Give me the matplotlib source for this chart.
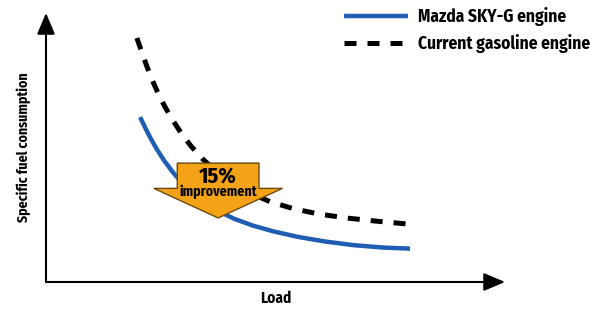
import matplotlib
matplotlib.use("Agg")
import matplotlib.pyplot as plt
import matplotlib.patches as mpatches

# Values (arbitrary units, both axes run 0-100)
load_current = [19.8, 20.8, 21.8, 22.9, 24.2, 25.7, 27.4, 29.4, 31.6, 34.2, 37.2, 40.6,
                44.5, 48.9, 53.8, 59.3, 65.4, 72.1, 80.4]
sfc_current = [90.7, 85.8, 81.0, 76.0, 71.0, 65.8, 60.7, 55.5, 50.5, 45.6, 41.0, 36.8,
                33.0, 29.8, 27.3, 25.3, 23.8, 22.6, 21.3]

load_skyg = [20.5, 21.6, 22.8, 24.2, 25.8, 27.6, 29.6, 31.9, 34.5, 37.5, 41.0, 45.0,
             49.6, 54.8, 60.6, 67.0, 73.5, 79.3]
sfc_skyg = [61.3, 57.4, 53.4, 49.2, 45.0, 40.9, 36.9, 33.1, 29.6, 26.4, 23.5, 21.0,
            18.8, 16.8, 15.1, 13.7, 12.8, 12.4]

labels = ["Mazda SKY-G engine", "Current gasoline engine"]
improvement = ["15%", "improvement"]

BLUE = "#1f5db4"
ORANGE = "#f5a316"
FONT = ["Fira Sans Condensed", "DejaVu Sans"]

fig = plt.figure(figsize=(6.03, 3.09), dpi=100)
W, H = 603, 309
ax = fig.add_axes([46 / W, (H - 282) / H, (505 - 46) / W, (282 - 13) / H])
ax.set_xlim(0, 100)
ax.set_ylim(0, 100)
for s in ax.spines.values():
    s.set_visible(False)
ax.set_xticks([])
ax.set_yticks([])

# axis arrows
arrow_kw = dict(arrowstyle="-|>,head_length=1.3,head_width=0.55", color="black", lw=1.5,
                shrinkA=0, shrinkB=0)
ax.annotate("", xy=(1, 0), xytext=(0, 0), xycoords="axes fraction", arrowprops=arrow_kw)
ax.annotate("", xy=(0, 1), xytext=(0, 0), xycoords="axes fraction", arrowprops=arrow_kw)

blue_line, = ax.plot(load_skyg, sfc_skyg, color=BLUE, lw=3.2, solid_capstyle="butt",
                     label=labels[0], zorder=2)
dash_line, = ax.plot(load_current, sfc_current, color="black", lw=3.6, dashes=(2.4, 2.2),
                     label=labels[1], zorder=2)

# improvement arrow
arrow = mpatches.FancyArrow(37.5, 44.2, 0, -20.4, width=17.8, head_width=28, head_length=11,
                            length_includes_head=True, facecolor=ORANGE,
                            edgecolor="#6b4a10", lw=1.0, zorder=3)
ax.add_patch(arrow)
ax.text(37.5, 39.4, improvement[0], ha="center", va="center", fontsize=16,
        fontweight="bold", family=FONT, zorder=4)
ax.text(37.5, 33.4, improvement[1], ha="center", va="center", fontsize=10,
        fontweight="bold", family=FONT, zorder=4)

ax.set_xlabel("Load", fontsize=11, fontweight="bold", family=FONT, labelpad=6)
ax.set_ylabel("Specific fuel consumption", fontsize=10, fontweight="bold", family=FONT,
              labelpad=11)

leg = fig.legend(handles=[blue_line, dash_line], loc="upper left",
                 bbox_to_anchor=(335 / W, 1 + 2 / H), frameon=False,
                 prop={"family": FONT, "weight": "bold", "size": 12.5},
                 handlelength=3.7, handletextpad=0.6, labelspacing=0.5, borderpad=0)

fig.savefig("out.png", dpi=100)
